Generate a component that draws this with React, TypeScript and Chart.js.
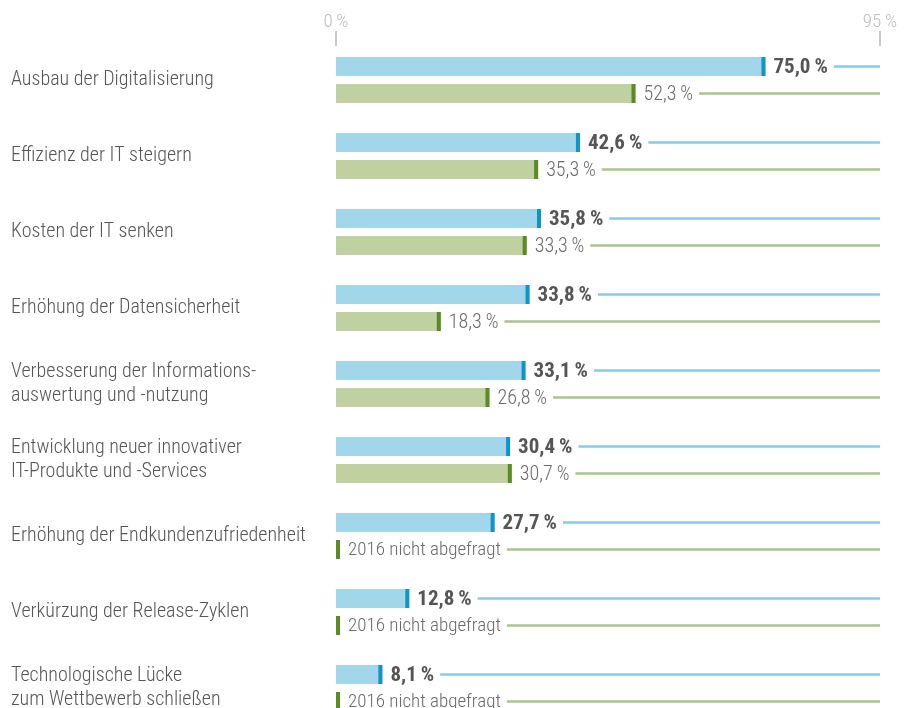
import React, { useEffect, useRef } from "react";
import { Chart, registerables } from "chart.js";

Chart.register(...registerables);

const categories: string[][] = [
  ["Ausbau der Digitalisierung"],
  ["Effizienz der IT steigern"],
  ["Kosten der IT senken"],
  ["Erhöhung der Datensicherheit"],
  ["Verbesserung der Informations-", "auswertung und -nutzung"],
  ["Entwicklung neuer innovativer", "IT-Produkte und -Services"],
  ["Erhöhung der Endkundenzufriedenheit"],
  ["Verkürzung der Release-Zyklen"],
  ["Technologische Lücke", "zum Wettbewerb schließen"],
];
const values2017: number[] = [75.0, 42.6, 35.8, 33.8, 33.1, 30.4, 27.7, 12.8, 8.1];
const values2016: (number | null)[] = [52.3, 35.3, 33.3, 18.3, 26.8, 30.7, null, null, null];
const axisTicks: number[] = [0, 95];
const notAskedLabel = "2016 nicht abgefragt";

const FONT = "'Roboto Condensed', 'Liberation Sans Narrow', 'DejaVu Sans Condensed', Roboto, sans-serif";

const fmt = (v: number) => v.toFixed(1).replace(".", ",") + "\u2009%";

const endStyles = [
  { cap: "#0f95c8", line: "#86cbe8", text: "#555555", font: `bold 21px ${FONT}`, naFont: `bold 19px ${FONT}` },
  { cap: "#5b8c24", line: "#abc38f", text: "#6a6a6a", font: `300 20px ${FONT}`, naFont: `300 19px ${FONT}` },
];

const endsPlugin = {
  id: "ends",
  afterDatasetsDraw(chart: any) {
    const ctx = chart.ctx;
    const xs = chart.scales.x;
    const right = chart.chartArea.right;
    chart.data.datasets.forEach((ds: any, di: number) => {
      const meta = chart.getDatasetMeta(di);
      const st = endStyles[di];
      meta.data.forEach((el: any, i: number) => {
        const v = ds.data[i];
        const p = el.getProps(["y", "height"], true);
        const base = xs.getPixelForValue(0);
        const end = v == null ? base + 4 : xs.getPixelForValue(v);
        const h = p.height;
        ctx.save();
        ctx.fillStyle = st.cap;
        ctx.fillRect(end - 4, p.y - h / 2, 4, h);
        const label = v == null ? notAskedLabel : fmt(v);
        ctx.font = v == null ? st.naFont : st.font;
        ctx.fillStyle = st.text;
        ctx.textBaseline = "middle";
        ctx.textAlign = "left";
        const tx = end + 8;
        ctx.fillText(label, tx, p.y + 1);
        const w = ctx.measureText(label).width;
        ctx.strokeStyle = st.line;
        ctx.lineWidth = 2.5;
        ctx.beginPath();
        ctx.moveTo(tx + w + 6, p.y);
        ctx.lineTo(right, p.y);
        ctx.stroke();
        ctx.restore();
      });
    });
  },
  afterDraw(chart: any) {
    const ctx = chart.ctx;
    const xs = chart.scales.x;
    ctx.save();
    ctx.fillStyle = "#c8c8c8";
    xs.ticks.forEach((t: any) => {
      const px = xs.getPixelForValue(t.value);
      ctx.fillRect(px - 1, 31, 2, 15);
    });
    ctx.restore();
  },
};

export default function App() {
  const ref = useRef<HTMLCanvasElement | null>(null);
  useEffect(() => {
    if (!ref.current) return;
    const chart = new Chart(ref.current, {
      type: "bar",
      data: {
        labels: categories as any,
        datasets: [
          { label: "2017", data: values2017, backgroundColor: "#a2d6ea", clip: false as any },
          { label: "2016", data: values2016 as any, backgroundColor: "#bfd0a1", clip: false as any },
        ],
      },
      options: {
        indexAxis: "y",
        animation: false,
        responsive: false,
        layout: { padding: { left: 11, right: 31, top: 0, bottom: 20 } },
        plugins: { legend: { display: false }, tooltip: { enabled: false } },
        datasets: { bar: { categoryPercentage: 54 / 76, barPercentage: 19 / 27 } },
        scales: {
          x: {
            position: "top",
            min: 0,
            max: 95,
            afterBuildTicks: (s: any) => {
              s.ticks = axisTicks.map((v) => ({ value: v }));
            },
            afterFit: (s: any) => {
              s.height = 80;
            },
            grid: { display: false, drawTicks: true, tickLength: 46 },
            border: { display: false },
            ticks: {
              callback: (v: any) => `${v}\u2009%`,
              color: "#bdbdbd",
              font: { family: FONT, size: 19, weight: "300" },
              padding: 0,
              maxRotation: 0,
              autoSkip: false,
            },
          },
          y: {
            type: "category",
            offset: false,
            afterFit: (s: any) => {
              s.width = 325;
            },
            grid: { display: false, drawTicks: false },
            border: { display: false },
            ticks: {
              crossAlign: "far",
              color: "#555555",
              font: { family: FONT, size: 20, weight: "300", lineHeight: 1.2 },
              autoSkip: false,
              padding: 0,
            },
          },
        },
      } as any,
      plugins: [endsPlugin],
    });
    return () => chart.destroy();
  }, []);
  return (
    <div style={{ position: "fixed", left: 0, top: 0, width: 911, height: 708 }}>
      <canvas ref={ref} width={911} height={708} style={{ display: "block" }} />
    </div>
  );
}
